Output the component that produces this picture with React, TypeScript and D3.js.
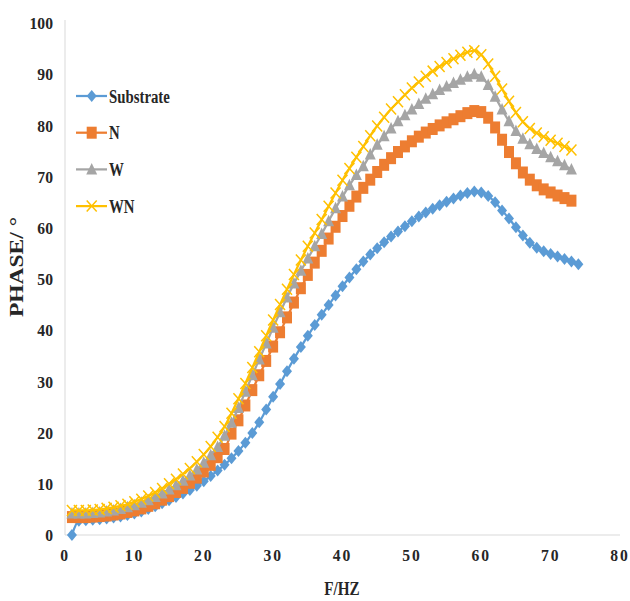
import React from "react";
import * as d3 from "d3";

const seriesNames = ["Substrate", "N", "W", "WN"];
const seriesColors = ["#5B9BD5", "#ED7D31", "#A5A5A5", "#FFC000"];

const substrateX = d3.range(1, 75);
const otherX = d3.range(1, 74);

const substrate = [
  0, 2.8, 2.9, 3.0, 3.1, 3.2, 3.4, 3.6, 3.9, 4.2,
  4.6, 5.1, 5.6, 6.2, 6.8, 7.4, 8.1, 8.8, 9.6, 10.5,
  11.5, 12.6, 13.7, 15.0, 16.4, 18.0, 19.9, 22.0, 24.5, 27.0,
  29.5, 32.0, 34.4, 36.7, 38.9, 41.0, 43.0, 44.9, 46.8, 48.6,
  50.3, 51.9, 53.4, 54.8, 56.0, 57.2, 58.3, 59.3, 60.3, 61.3,
  62.2, 63.0, 63.7, 64.4, 65.1, 65.7, 66.3, 66.8, 67.1, 66.9,
  66.2, 65.0, 63.4, 61.8, 60.1, 58.5, 57.1, 56.1, 55.4, 54.9,
  54.4, 53.9, 53.4, 52.9,
];

const nSeries = [
  3.5, 3.5, 3.5, 3.6, 3.7, 3.8, 4.0, 4.2, 4.5, 4.8,
  5.2, 5.7, 6.2, 6.9, 7.6, 8.4, 9.2, 10.2, 11.2, 12.4,
  13.7, 15.2, 16.8, 19.8, 22.4, 25.3, 28.3, 31.2, 34.0, 36.8,
  39.6, 42.5, 45.4, 48.2, 50.8, 53.2, 55.5, 57.9, 60.2, 62.3,
  64.3, 66.1, 67.8, 69.4, 70.9, 72.3, 73.6, 74.8, 75.9, 76.9,
  77.8, 78.6, 79.3, 80.0, 80.6, 81.2, 81.8, 82.4, 82.8, 82.6,
  81.5, 79.6, 77.2, 74.8, 72.6, 70.8, 69.4, 68.3, 67.5, 66.9,
  66.3, 65.8, 65.3,
];

const wSeries = [
  4.2, 4.2, 4.2, 4.3, 4.4, 4.6, 4.8, 5.1, 5.4, 5.8,
  6.3, 6.8, 7.4, 8.1, 8.9, 9.7, 10.6, 11.6, 12.8, 14.1,
  15.6, 17.2, 19.4, 21.9, 24.8, 28.0, 31.2, 34.3, 37.4, 40.5,
  43.5, 46.4, 49.1, 51.6, 54.0, 56.4, 58.8, 61.3, 63.8, 66.1,
  68.3, 70.3, 72.0, 74.3, 76.2, 77.9, 79.4, 80.8, 82.0, 83.1,
  84.2, 85.2, 86.1, 86.9, 87.6, 88.3, 88.9, 89.5, 90.0, 89.5,
  87.9, 85.6, 83.1, 80.8, 78.9, 77.4, 76.3, 75.4, 74.6, 73.8,
  73.0, 72.2, 71.4,
];

const wnSeries = [
  4.8, 4.8, 4.8, 4.9, 5.0, 5.2, 5.4, 5.7, 6.0, 6.5,
  7.0, 7.6, 8.3, 9.1, 10.0, 10.9, 11.9, 13.0, 14.3, 15.7,
  17.3, 19.1, 21.2, 23.8, 26.6, 29.6, 32.7, 35.8, 38.9, 42.0,
  45.0, 48.0, 50.9, 53.7, 56.4, 59.0, 61.6, 64.2, 66.8, 69.3,
  71.6, 73.8, 75.9, 78.0, 79.9, 81.6, 83.2, 84.6, 86.0, 87.3,
  88.5, 89.6, 90.6, 91.5, 92.3, 93.0, 93.7, 94.3, 94.6, 93.8,
  92.0, 89.6, 87.1, 84.7, 82.5, 80.7, 79.4, 78.5, 77.8, 77.1,
  76.5, 75.9, 75.2,
];

const xTicks = [0, 10, 20, 30, 40, 50, 60, 70, 80];
const yTicks = [0, 10, 20, 30, 40, 50, 60, 70, 80, 90, 100];

const W = 630;
const H = 601;
const left = 65;
const right = 620;
const top = 23;
const bottom = 535;

function Marker({ kind, x, y, color }: { kind: number; x: number; y: number; color: string }) {
  if (kind === 0) {
    const sx = 5;
    const sy = 6;
    return <path d={`M${x},${y - sy}L${x + sx},${y}L${x},${y + sy}L${x - sx},${y}Z`} fill={color} />;
  }
  if (kind === 1) {
    return <rect x={x - 5} y={y - 6} width={10} height={12} fill={color} />;
  }
  if (kind === 2) {
    const sx = 5.5;
    return <path d={`M${x},${y - 6.5}L${x + sx},${y + 5}L${x - sx},${y + 5}Z`} fill={color} />;
  }
  const sx = 5;
  const sy = 5.5;
  return (
    <path
      d={`M${x - sx},${y - sy}L${x + sx},${y + sy}M${x - sx},${y + sy}L${x + sx},${y - sy}`}
      stroke={color}
      strokeWidth={1.5}
      fill="none"
    />
  );
}

export default function App() {
  const xScale = d3.scaleLinear().domain([0, 80]).range([left, right]);
  const yScale = d3.scaleLinear().domain([0, 100]).range([bottom, top]);

  const allData = [
    substrateX.map((x, i) => [x, substrate[i]] as [number, number]),
    otherX.map((x, i) => [x, nSeries[i]] as [number, number]),
    otherX.map((x, i) => [x, wSeries[i]] as [number, number]),
    otherX.map((x, i) => [x, wnSeries[i]] as [number, number]),
  ];

  const line = d3
    .line<[number, number]>()
    .x((d) => xScale(d[0]))
    .y((d) => yScale(d[1]))
    .curve(d3.curveMonotoneX);

  const font = "'Liberation Serif', 'Times New Roman', serif";
  const ink = "#262626";

  return (
    <svg width={W} height={H} style={{ position: "absolute", left: 0, top: 0, background: "#fff" }}>
      <rect x={0} y={0} width={W} height={H} fill="#fff" />
      <line x1={left} y1={top - 3} x2={left} y2={bottom} stroke="#d9d9d9" strokeWidth={1} />
      <line x1={left} y1={bottom} x2={right} y2={bottom} stroke="#d9d9d9" strokeWidth={1} />

      {yTicks.map((t) => (
        <text
          key={"y" + t}
          transform={`translate(53, ${yScale(t)}) scale(0.92, 1)`}
          dy="0.36em"
          textAnchor="end"
          fontFamily={font}
          fontWeight="bold"
          fontSize={17}
          fill={ink}
        >
          {t}
        </text>
      ))}
      {xTicks.map((t) => (
        <text
          key={"x" + t}
          transform={`translate(${xScale(t)}, ${bottom + 26}) scale(0.92, 1)`}
          textAnchor="middle"
          fontFamily={font}
          fontWeight="bold"
          fontSize={17}
          letterSpacing={2}
          fill={ink}
        >
          {t}
        </text>
      ))}

      <text
        transform={`translate(342, 595) scale(0.8, 1)`}
        textAnchor="middle"
        fontFamily={font}
        fontWeight="bold"
        fontSize={19}
        fill={ink}
      >
        F/HZ
      </text>
      <text
        transform={`translate(23, 267) rotate(-90)`}
        textAnchor="middle"
        fontFamily={font}
        fontWeight="bold"
        fontSize={18}
        textLength={100}
        lengthAdjust="spacingAndGlyphs"
        fill={ink}
      >
        PHASE/ °
      </text>

      {allData.map((data, si) => (
        <g key={"s" + si}>
          <path d={line(data) || ""} fill="none" stroke={seriesColors[si]} strokeWidth={2.25} />
          {data.map((d, i) => (
            <Marker key={i} kind={si} x={xScale(d[0])} y={yScale(d[1])} color={seriesColors[si]} />
          ))}
        </g>
      ))}

      {seriesNames.map((name, i) => {
        const yy = 96 + i * 36.7;
        return (
          <g key={"l" + i}>
            <line x1={76} y1={yy} x2={107} y2={yy} stroke={seriesColors[i]} strokeWidth={2.25} />
            <Marker kind={i} x={91.7} y={yy} color={seriesColors[i]} />
            <text
              transform={`translate(109, ${yy}) scale(0.78, 1)`}
              dy="0.35em"
              fontFamily={font}
              fontWeight="bold"
              fontSize={19}
              fill={ink}
            >
              {name}
            </text>
          </g>
        );
      })}
    </svg>
  );
}
